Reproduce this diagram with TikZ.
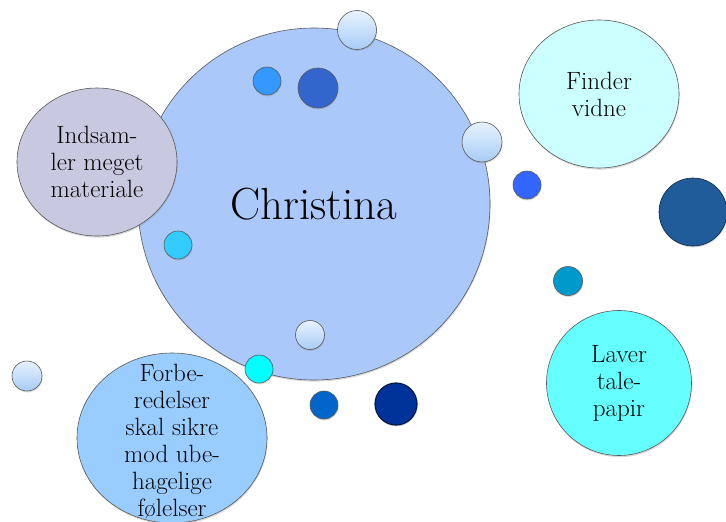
\documentclass[tikz,border=0pt]{standalone}
\usepackage{tikz}
\usepackage{xcolor}
\usetikzlibrary{shapes.geometric, shadows}
\definecolor{cMain}{RGB}{170,200,250}
\definecolor{cLavender}{RGB}{200,200,224}
\definecolor{cSky}{RGB}{153,204,255}
\definecolor{cIce}{RGB}{204,255,255}
\definecolor{cAqua}{RGB}{102,255,255}
\definecolor{cPaleTop}{RGB}{232,242,255}
\definecolor{cPaleBot}{RGB}{166,204,245}
\definecolor{cBlue}{RGB}{51,153,255}
\definecolor{cRoyal}{RGB}{51,102,204}
\definecolor{cCyan}{RGB}{51,204,255}
\definecolor{cTurq}{RGB}{0,255,255}
\definecolor{cOcean}{RGB}{0,102,204}
\definecolor{cNavy}{RGB}{0,51,153}
\definecolor{cBright}{RGB}{51,102,255}
\definecolor{cSteel}{RGB}{31,92,153}
\definecolor{cTeal}{RGB}{0,153,204}
\tikzset{
	bubble/.style ={ellipse, draw=black!65, line width=0.6pt, inner sep=0pt,
	                drop shadow={shadow xshift=0.6pt, shadow yshift=-1.6pt, opacity=0.3}},
	btext/.style  ={align=center, font=\fontsize{25}{27}\selectfont},
	dot/.style    ={circle, draw=black!65, line width=0.6pt, inner sep=0pt, minimum size=#1,
	                drop shadow={shadow xshift=0.5pt, shadow yshift=-1.4pt, opacity=0.3}},
	pale/.style   ={top color=cPaleTop, bottom color=cPaleBot},
}
\begin{document}
\begin{tikzpicture}[x=1pt, y=-1pt]
	\useasboundingbox (0,0) rectangle (726,522);
	\clip (0,0) rectangle (726,522);
	% big bubbles
	\node[bubble, fill=cMain, minimum width=352pt, minimum height=352pt] (christina) at (314,204) {};
	\node[font=\fontsize{45}{54}\selectfont] (name) at (christina) {Christina};
	\node[bubble, fill=cLavender, minimum width=160pt, minimum height=148pt] (indsam) at (97,162) {};
	\node[btext] (indsamtxt) at (indsam) {Indsam-\\ler meget\\materiale};
	\node[bubble, fill=cSky, minimum width=190pt, minimum height=170pt] (forb) at (172,438) {};
	\node[btext] (forbtxt) at ([yshift=-4pt]forb.center) {Forbe-\\redelser\\skal sikre\\mod ube-\\hagelige\\f{\o}lelser};
	\node[bubble, fill=cIce, minimum width=160pt, minimum height=148pt] (finder) at (599,94) {};
	\node[btext] (findertxt) at (finder) {Finder\\vidne};
	\node[bubble, fill=cAqua, minimum width=145pt, minimum height=145pt] (laver) at (619,383) {};
	\node[btext] (lavertxt) at (laver) {Laver\\tale-\\papir};
	% small dots
	\node[dot=39pt, pale] (paleA) at (357,30) {};
	\node[dot=28pt, fill=cBlue] (blueA) at (267,81) {};
	\node[dot=40pt, fill=cRoyal] (royal) at (318,88) {};
	\node[dot=40pt, pale] (paleB) at (482,142) {};
	\node[dot=28pt, fill=cCyan] (cyan) at (178,245) {};
	\node[dot=29pt, pale] (paleC) at (310,335) {};
	\node[dot=28pt, fill=cTurq] (turq) at (259,369) {};
	\node[dot=30pt, pale] (paleD) at (27,376) {};
	\node[dot=28pt, fill=cOcean] (ocean) at (324,405) {};
	\node[dot=42pt, fill=cNavy, draw=cNavy!50!black, line width=1.2pt] (navy) at (396,404) {};
	\node[dot=28pt, fill=cBright] (bright) at (527,185) {};
	\node[dot=68pt, fill=cSteel, draw=cSteel!40!black] (steel) at (693,212) {};
	\node[dot=29pt, fill=cTeal] (teal) at (568,281) {};
\end{tikzpicture}
\end{document}
